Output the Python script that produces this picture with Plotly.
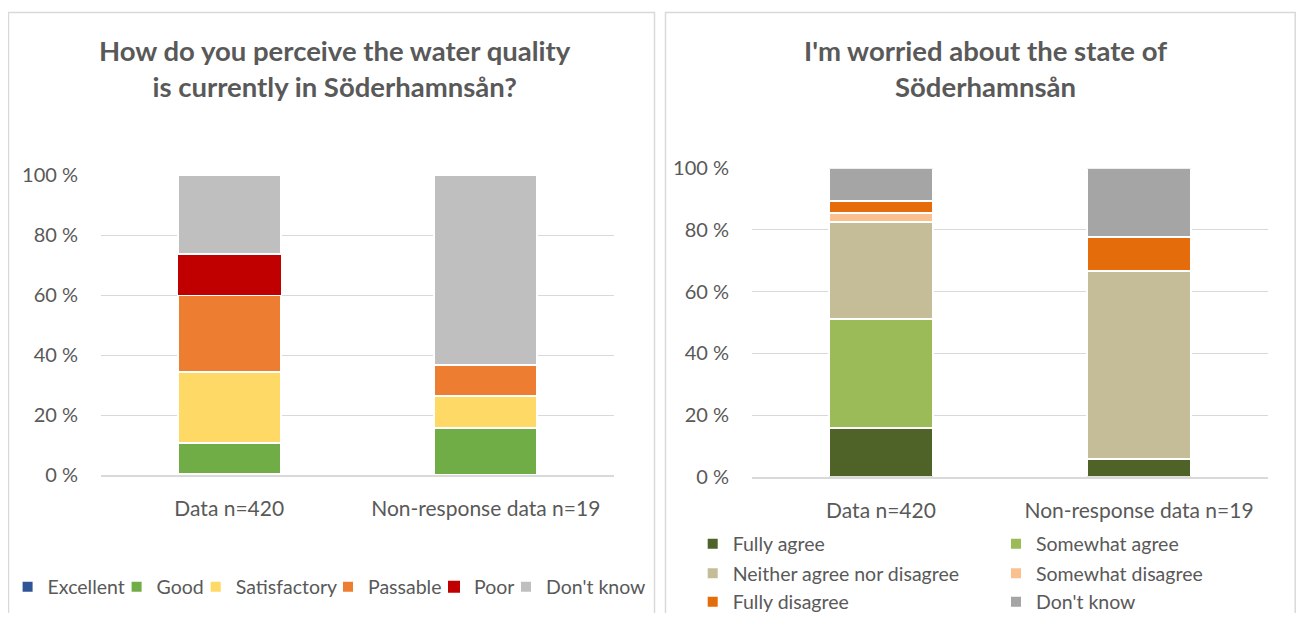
import plotly.graph_objects as go

# Figure size chosen so that, with the page's default 8px body margin,
# the figure fills the 1304x621 window exactly.
W, H = 1288, 605
OFF = 8

# ---- data ----
categories = ["Data n=420", "Non-response data n=19"]

quality_labels = ["Excellent", "Good", "Satisfactory", "Passable", "Poor", "Don't know"]
quality_values = [
    [0.5, 0.0],     # Excellent
    [10.1, 15.8],   # Good
    [23.8, 10.5],   # Satisfactory
    [25.6, 10.5],   # Passable
    [13.7, 0.0],    # Poor
    [26.3, 63.2],   # Don't know
]
quality_colors = ["#2F5597", "#70AD47", "#FFD966", "#ED7D31", "#C00000", "#BFBFBF"]

worry_labels = ["Fully agree", "Somewhat agree", "Neither agree nor disagree",
                "Somewhat disagree", "Fully disagree", "Don't know"]
worry_values = [
    [15.7, 5.6],    # Fully agree
    [35.3, 0.0],    # Somewhat agree
    [31.5, 61.1],   # Neither
    [2.9, 0.0],     # Somewhat disagree
    [3.9, 11.1],    # Fully disagree
    [10.7, 22.2],   # Don't know
]
worry_colors = ["#4F6228", "#9BBB59", "#C4BD97", "#FAC090", "#E46C0A", "#A5A5A5"]

y_ticks = [0, 20, 40, 60, 80, 100]
y_ticktext = ["0 %", "20 %", "40 %", "60 %", "80 %", "100 %"]

title_left = "How do you perceive the water quality<br>is currently in Söderhamnsån?"
title_right = "I'm worried about the state of<br>Söderhamnsån"

FONT = "Lato, 'Open Sans', sans-serif"
TXT = "#595959"
GRID = "#D9D9D9"


def px(x):
    """page x (window pixels) -> paper fraction"""
    return (x - OFF) / W


def py(y):
    """page y (window pixels) -> paper fraction"""
    return 1 - (y - OFF) / H


# legend text start positions (page px) and rows
left_leg_text_x = [47.6, 156.6, 235.7, 368, 474, 546]
left_leg_y = 587
right_leg_text_x = [732.7, 1036]
right_leg_rows = [544, 573.5, 602]

fig = go.Figure()

legend_layouts = {}
leg_font = dict(family=FONT, size=19.5, color=TXT)


def make_legend(name, text_x, text_y):
    legend_layouts[name] = dict(
        orientation="v", x=px(text_x - 40), xanchor="left",
        y=py(text_y), yanchor="middle", font=leg_font,
        bgcolor="rgba(0,0,0,0)", itemclick=False, itemdoubleclick=False,
    )


for i, (lab, vals, col) in enumerate(zip(quality_labels, quality_values, quality_colors)):
    lname = "legend" if i == 0 else f"legend{i + 1}"
    make_legend(lname, left_leg_text_x[i], left_leg_y)
    fig.add_trace(go.Bar(
        x=categories, y=vals, name=lab, marker_color=col,
        marker_line=dict(color="white", width=0 if lab == "Poor" else 2),
        xaxis="x", yaxis="y", legend=lname, showlegend=True, hoverinfo="name+y",
    ))

for i, (lab, vals, col) in enumerate(zip(worry_labels, worry_values, worry_colors)):
    lname = f"legend{i + 7}"
    make_legend(lname, right_leg_text_x[i % 2], right_leg_rows[i // 2])
    fig.add_trace(go.Bar(
        x=categories, y=vals, name=lab, marker_color=col,
        marker_line=dict(color="white", width=2),
        xaxis="x2", yaxis="y2", legend=lname, showlegend=True, hoverinfo="name+y",
    ))

ytick_font = dict(family=FONT, size=20, color=TXT)
xtick_font = dict(family=FONT, size=21, color=TXT)

common_y = dict(range=[0, 100], tickmode="array", tickvals=y_ticks, ticktext=y_ticktext,
                showgrid=True, gridcolor=GRID, gridwidth=1.3,
                zeroline=False, showline=False, tickfont=ytick_font,
                ticklabelstandoff=22, fixedrange=True, automargin=False)
common_x = dict(showline=True, linecolor=GRID, linewidth=1.5, tickfont=xtick_font,
                ticks="", ticklabelstandoff=14, fixedrange=True, automargin=False)

fig.update_layout(
    width=W, height=H,
    margin=dict(l=0, r=0, t=0, b=0, autoexpand=False),
    showlegend=True,
    paper_bgcolor="white", plot_bgcolor="white",
    barmode="stack", bargap=0.6,
    font=dict(family=FONT, color=TXT),
    xaxis=dict(domain=[px(101), px(614)], anchor="y", **common_x),
    yaxis=dict(domain=[py(475), py(175)], anchor="x", **common_y),
    xaxis2=dict(domain=[px(752), px(1268)], anchor="y2", **common_x),
    yaxis2=dict(domain=[py(476.7), py(168.3)], anchor="x2", **common_y),
    annotations=[
        dict(text="<b>" + title_left + "</b>", x=px(335), y=py(69), xref="paper", yref="paper",
             xanchor="center", yanchor="middle", showarrow=False,
             font=dict(family=FONT, size=27.5, color=TXT)),
        dict(text="<b>" + title_right + "</b>", x=px(985), y=py(69), xref="paper", yref="paper",
             xanchor="center", yanchor="middle", showarrow=False,
             font=dict(family=FONT, size=27.5, color=TXT)),
    ],
    shapes=[
        dict(type="rect", xref="paper", yref="paper", x0=px(8.5), x1=px(654.5),
             y0=-0.1, y1=py(12.5), line=dict(color=GRID, width=1.5), layer="below"),
        dict(type="rect", xref="paper", yref="paper", x0=px(665.5), x1=px(1295.2),
             y0=-0.1, y1=py(12.5), line=dict(color=GRID, width=1.5), layer="below"),
    ],
)
fig.update_layout(**legend_layouts)

fig.write_html("out.html")
